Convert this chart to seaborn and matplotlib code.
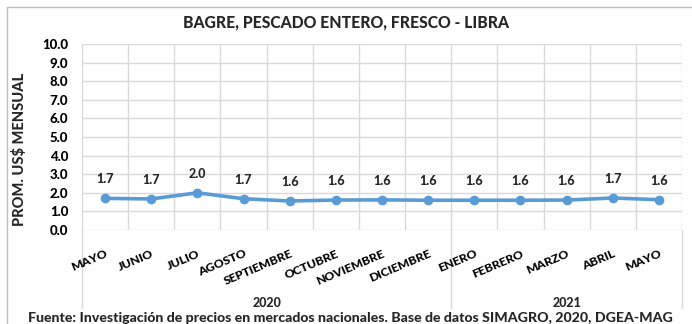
import matplotlib
matplotlib.use("Agg")
import matplotlib.pyplot as plt
import matplotlib.transforms as mtransforms
from matplotlib.lines import Line2D
import numpy as np
import pandas as pd
import seaborn as sns

# Monthly average price, catfish (whole fresh fish) per pound, US$
months = ["MAYO", "JUNIO", "JULIO", "AGOSTO", "SEPTIEMBRE", "OCTUBRE",
          "NOVIEMBRE", "DICIEMBRE", "ENERO", "FEBRERO", "MARZO", "ABRIL", "MAYO"]
prices = [1.70, 1.67, 2.00, 1.68, 1.56, 1.61, 1.62, 1.60, 1.60, 1.60, 1.61, 1.72, 1.63]
years = ["2020", "2021"]
year_spans = [(0, 8), (8, 13)]
y_ticks = [0.0, 1.0, 2.0, 3.0, 4.0, 5.0, 6.0, 7.0, 8.0, 9.0, 10.0]

title = "BAGRE, PESCADO ENTERO, FRESCO - LIBRA"
y_label = "PROM. US$ MENSUAL"
source = "Fuente: Investigación de precios en mercados nacionales. Base de datos SIMAGRO, 2020, DGEA-MAG"

sns.set_theme(style="white")
plt.rcParams["font.family"] = ["Lato", "DejaVu Sans"]
WEIGHT = 900
plt.rcParams["font.weight"] = WEIGHT

W, H = 692, 324
fig = plt.figure(figsize=(W / 100, H / 100), dpi=100)
ax = fig.add_axes([82 / W, 1 - 230 / H, 600 / W, 186 / H])

df = pd.DataFrame({"pos": np.arange(len(months)), "precio": prices})
line_color = "#5B9BD5"
grid_color = "#D9D9D9"

sns.lineplot(data=df, x="pos", y="precio", ax=ax, color=line_color,
             linewidth=2.6, marker="o", markersize=7, markeredgewidth=0,
             zorder=3)

ax.set_xlim(-0.5, len(months) - 0.5)
ax.set_ylim(0, 10)
ax.set_yticks(y_ticks)
ax.set_yticklabels([f"{v:.1f}" for v in y_ticks], fontsize=9.5, fontweight=WEIGHT)
ax.set_xticks(df["pos"])
ax.set_xticklabels(months, rotation=23, ha="right", va="top",
                   rotation_mode="anchor", fontsize=8.8, fontweight=WEIGHT)
ax.tick_params(axis="both", length=0, colors="black")
ax.tick_params(axis="y", pad=10)
ax.tick_params(axis="x", pad=13)
ax.set_xlabel("")
ax.set_ylabel("")

# grid: horizontal at each unit, vertical at category boundaries
for v in y_ticks:
    ax.axhline(v, color=grid_color, linewidth=1.0, zorder=1)
boundaries = np.arange(len(months) + 1) - 0.5
for b in boundaries:
    ax.axvline(b, color=grid_color, linewidth=1.0, zorder=1)
for s in ax.spines.values():
    s.set_visible(False)

# group separators reaching down to the year labels
trans = mtransforms.blended_transform_factory(ax.transData, ax.transAxes)
for b in [-0.5, 7.5, 12.5]:
    ax.add_line(Line2D([b, b], [0, -0.42], transform=trans, color=grid_color,
                       linewidth=1.0, clip_on=False, zorder=0))
for label, (a, b) in zip(years, year_spans):
    ax.text((a + b - 1) / 2, -0.395, label, transform=trans, ha="center",
            va="center", fontsize=9, fontweight=WEIGHT)

# value labels above each point
for x, v in zip(df["pos"], df["precio"]):
    ax.annotate(f"{v:.1f}", (x, v), xytext=(0, 19), textcoords="offset pixels",
                ha="center", va="center", fontsize=9, fontweight=WEIGHT)

fig.text(0.5, 1 - 22 / H, title, ha="center", va="center", fontsize=11.3,
         fontweight=WEIGHT)
fig.text(20 / W, 1 - 149 / H, y_label, ha="center", va="center", rotation=90,
         fontsize=10.5, fontweight=WEIGHT)
fig.text(350 / W, 1 - 318 / H, source, ha="center", va="center", fontsize=10.2,
         fontweight=WEIGHT)

# chart frame
fig.add_artist(Line2D([7 / W, 7 / W], [0, 1 - 7 / H], transform=fig.transFigure,
                      color="#BFBFBF", linewidth=1.0))
fig.add_artist(Line2D([7 / W, 1], [1 - 7 / H, 1 - 7 / H], transform=fig.transFigure,
                      color="#BFBFBF", linewidth=1.0))

fig.savefig("out.png", dpi=100, facecolor="white")
